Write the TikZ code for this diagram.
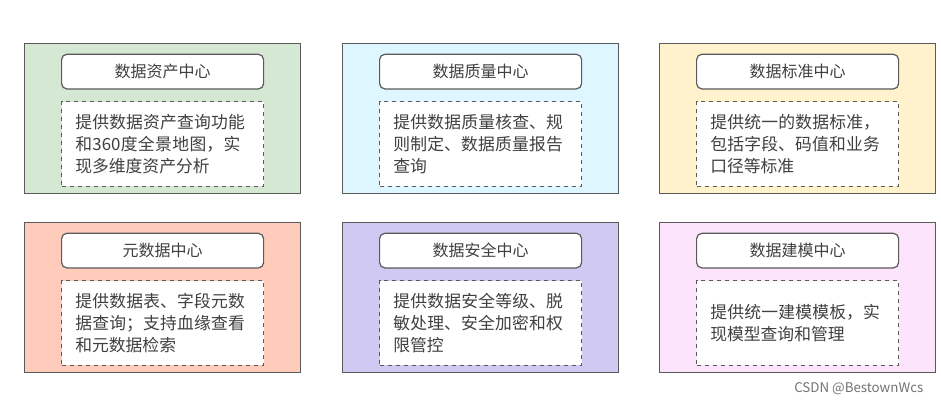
\documentclass[tikz,border=0pt]{standalone}
\usepackage{fontspec}
\setmainfont{Noto Sans CJK SC}
\XeTeXlinebreaklocale "zh"
\XeTeXlinebreakskip=0pt plus 1pt
\usetikzlibrary{positioning}
\definecolor{cgreen}{RGB}{213,232,212}
\definecolor{ccyan}{RGB}{222,246,255}
\definecolor{cyellow}{RGB}{255,242,204}
\definecolor{csalmon}{RGB}{255,204,188}
\definecolor{cpurple}{RGB}{208,202,242}
\definecolor{cpink}{RGB}{252,228,252}
\definecolor{cedge}{RGB}{90,90,90}
\tikzset{
  panel/.style={draw=cedge, line width=0.9pt, minimum width=207pt, minimum height=112.5pt, anchor=north west, inner sep=0pt},
  titlebox/.style={draw=cedge, fill=white, rounded corners=4pt, line width=0.9pt, minimum width=151.5pt, minimum height=26pt, font=\fontsize{12}{14}\selectfont, text=black!75},
  descbox/.style={draw=cedge, fill=white, dashed, line width=1pt, minimum width=151.5pt, minimum height=63.5pt, text width=131pt, align=left, inner sep=0pt, font=\fontsize{12.6}{16.5}\selectfont, text=black!75}
}
\begin{document}
\begin{tikzpicture}[x=0.75pt,y=0.75pt,yscale=-1,xscale=1]
\useasboundingbox (0,0) rectangle (941,405);

%Panels
\foreach \name/\px/\py/\col/\head/\desc in {
  asset/24/43/cgreen/数据资产中心/{提供数据资产查询功能和360度全景地图，实现多维度资产分析},
  quality/342/43/ccyan/数据质量中心/{提供数据质量核查、规则制定、数据质量报告查询},
  standard/659/43/cyellow/数据标准中心/{提供统一的数据标准，包括字段、码值和业务口径等标准},
  meta/24/222/csalmon/元数据中心/{提供数据表、字段元数据查询；支持血缘查看和元数据检索},
  security/342/222/cpurple/数据安全中心/{提供数据安全等级、脱敏处理、安全加密和权限管控},
  model/659/222/cpink/数据建模中心/{提供统一建模模板，实现模型查询和管理}}
{
  \node [panel, fill=\col] (\name) at (\px,\py) {};
  \node [titlebox, below=8pt of \name.north] (\name-head) {\head};
  \node [descbox, below=8.5pt of \name-head] (\name-desc) {\desc};
}

% Text Node
\node [text=black!55, font=\fontsize{10}{12}\selectfont, anchor=east] (mark) at (928,389) {CSDN @BestownWcs};
\end{tikzpicture}
\end{document}
